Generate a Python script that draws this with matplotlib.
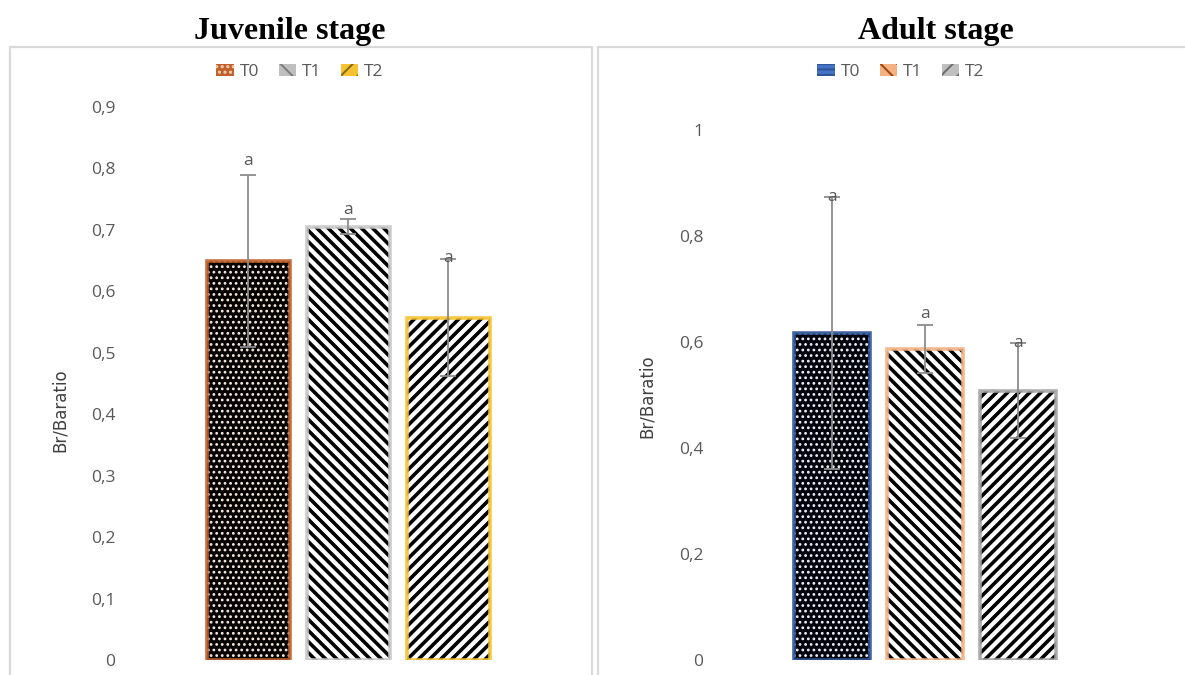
import matplotlib
matplotlib.use("Agg")
import matplotlib.pyplot as plt
from matplotlib.patches import Rectangle, Patch

# Br/Ba ratio per treatment at two growth stages
treatments = ["T0", "T1", "T2"]
juvenile_mean = [0.650, 0.705, 0.557]
juvenile_err = [0.140, 0.012, 0.095]
adult_mean = [0.617, 0.587, 0.508]
adult_err = [0.257, 0.045, 0.090]
juvenile_letters = ["a", "a", "a"]
adult_letters = ["a", "a", "a"]
juvenile_ticks = [0, 0.1, 0.2, 0.3, 0.4, 0.5, 0.6, 0.7, 0.8, 0.9]
adult_ticks = [0, 0.2, 0.4, 0.6, 0.8, 1.0]

W, H = 1185, 675
fig = plt.figure(figsize=(W / 100, H / 100), dpi=100)

TICK_GRAY = "#595959"
ERR_GRAY = "#8c8c8c"


def px_box(left, top, right, bottom):
    return [left / W, 1 - bottom / H, (right - left) / W, (bottom - top) / H]


def fmt(v):
    if v == 0:
        return "0"
    if abs(v - round(v)) < 1e-9:
        return str(int(round(v)))
    return f"{v:.1f}".replace(".", ",")


# panel frames
for l, r in [(10, 592), (598, 1192)]:
    fig.patches.append(Rectangle((l / W, -0.05), (r - l) / W, 1 - 47 / H + 0.05,
                                 transform=fig.transFigure, fill=False,
                                 edgecolor="#d9d9d9", linewidth=1.6, zorder=0))

# bar styles: (face, hatch colour, hatch, hatch width, border)
juv_styles = [("#050200", "#f6ece2", "...", 1.2, "#c0602a"),
              ("white", "black", "\\\\\\", 2.6, "#c8c8c8"),
              ("white", "black", "///", 2.6, "#f5c232")]
adult_styles = [("#01030a", "#eef2fa", "...", 1.2, "#2f5597"),
                ("white", "black", "\\\\\\", 2.6, "#f4b183"),
                ("white", "black", "///", 2.6, "#a5a5a5")]
juv_legend = [("#c0602a", "#f0d0b0", "..."), ("#bfbfbf", "#7f7f7f", "\\\\"),
              ("#f5c232", "#8a6d10", "//")]
adult_legend = [("#4472c4", "#2f5597", "---"), ("#f4b183", "#a04a10", "\\\\"),
                ("#bfbfbf", "#6f6f6f", "//")]


def panel(box, xlim, ylim, means, errs, letters, ticks, styles, width,
          letter_off, ylabel_xy, title, title_x, leg_styles, leg_x):
    ax = fig.add_axes(box)
    x = list(range(len(means)))
    for i, (m, (fc, hc, hatch, hlw, ec)) in enumerate(zip(means, styles)):
        plt.rcParams["hatch.linewidth"] = hlw
        ax.bar(x[i], m, width=width, color=fc, edgecolor=hc, hatch=hatch,
               linewidth=0, zorder=2)
        ax.bar(x[i], m, width=width, fill=False, edgecolor=ec, linewidth=2.6,
               alpha=0.9, zorder=3)
    ax.errorbar(x, means, yerr=errs, fmt="none", ecolor=ERR_GRAY,
                elinewidth=1.3, capsize=6, capthick=1.3, zorder=4)
    for i, (m, e, t) in enumerate(zip(means, errs, letters)):
        ax.annotate(t, (x[i], m + e), xytext=(0, letter_off[i] * 0.72),
                    textcoords="offset points", ha="center", va="center",
                    fontsize=12.5, color=TICK_GRAY, family="Open Sans", zorder=5)
    ax.set_xlim(*xlim)
    ax.set_ylim(*ylim)
    ax.set_xticks([])
    ax.set_yticks(ticks)
    ax.set_yticklabels([fmt(t) for t in ticks], family="Open Sans",
                       fontsize=12.5, color=TICK_GRAY)
    ax.tick_params(axis="y", length=0, pad=7)
    for s in ax.spines.values():
        s.set_visible(False)
    ax.patch.set_alpha(0)
    fig.text(ylabel_xy[0] / W, 1 - ylabel_xy[1] / H, "Br/Baratio", rotation=90,
             ha="center", va="center", fontsize=12, color="#404040",
             family=["Liberation Sans Narrow", "DejaVu Sans"])
    fig.text(title_x / W, 1 - 31 / H, title, ha="center", va="center",
             fontsize=23, fontweight="bold", family="Liberation Serif")
    plt.rcParams["hatch.linewidth"] = 1.5
    handles = [Patch(facecolor=fc, edgecolor=hc, hatch=h, linewidth=0)
               for fc, hc, h in leg_styles]
    leg = fig.legend(handles, treatments, loc="center",
                     bbox_to_anchor=(leg_x / W, 1 - 72 / H), ncol=3,
                     frameon=False, handlelength=1.0, handleheight=0.65,
                     columnspacing=1.1, handletextpad=0.35,
                     prop={"family": "Open Sans", "size": 12.5})
    for t in leg.get_texts():
        t.set_color(TICK_GRAY)
    return ax


panel(px_box(125, 107, 571, 660), (-1.23, 3.23), (0, 0.9), juvenile_mean,
      juvenile_err, juvenile_letters, juvenile_ticks, juv_styles, 0.83,
      [14, 9, 1], (60, 410), "Juvenile stage", 290, juv_legend, 300)
panel(px_box(713, 130, 1137, 660), (-1.28, 3.28), (0, 1.0), adult_mean,
      adult_err, adult_letters, adult_ticks, adult_styles, 0.81,
      [0, 11, 0], (647, 396), "Adult stage", 936, adult_legend, 901)

fig.savefig("out.png", dpi=100)
